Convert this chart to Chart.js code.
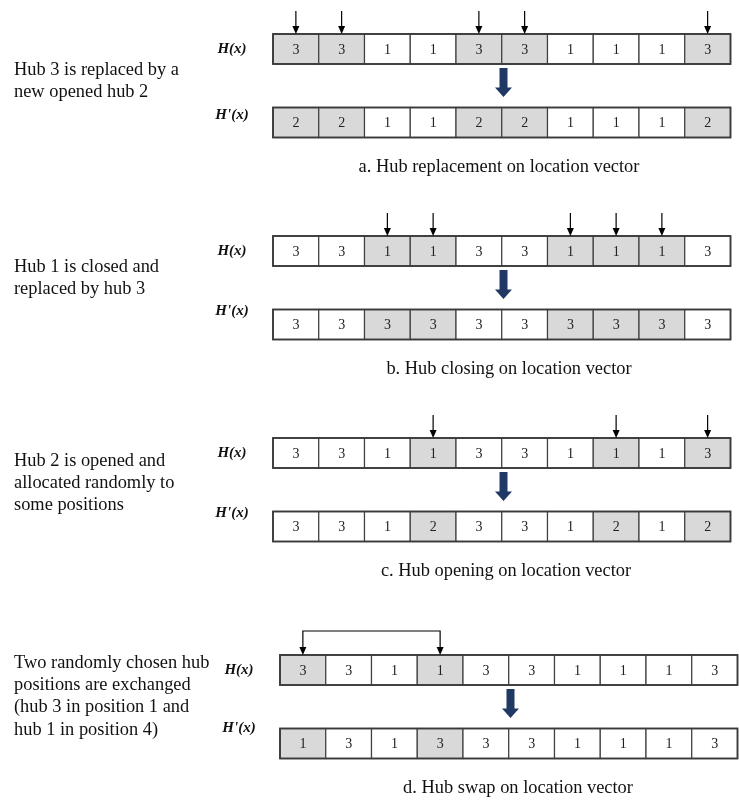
<!DOCTYPE html>
<html lang="en">
<head>
    <meta charset="UTF-8">
    <title>Hub moves on location vector</title>
    <script src="https://cdn.jsdelivr.net/npm/chart.js"></script>
    <style>
        html, body {
            margin: 0;
            padding: 0;
            background-color: #fff;
        }
        canvas {
            display: block;
        }
    </style>
</head>
<body>
    <canvas id="hubChart" width="739" height="800"></canvas>
    <script>
        // one entry per panel: a, b, c, d
        const captions = [
            'a. Hub replacement on location vector',
            'b. Hub closing on location vector',
            'c. Hub opening on location vector',
            'd. Hub swap on location vector'
        ];
        const notes = [
            ['Hub 3 is replaced by a', 'new opened hub 2'],
            ['Hub 1 is closed and', 'replaced by hub 3'],
            ['Hub 2 is opened and', 'allocated randomly to', 'some positions'],
            ['Two randomly chosen hub', 'positions are exchanged', '(hub 3 in position 1 and', 'hub 1 in position 4)']
        ];
        const hBefore = [
            [3, 3, 1, 1, 3, 3, 1, 1, 1, 3],
            [3, 3, 1, 1, 3, 3, 1, 1, 1, 3],
            [3, 3, 1, 1, 3, 3, 1, 1, 1, 3],
            [3, 3, 1, 1, 3, 3, 1, 1, 1, 3]
        ];
        const hAfter = [
            [2, 2, 1, 1, 2, 2, 1, 1, 1, 2],
            [3, 3, 3, 3, 3, 3, 3, 3, 3, 3],
            [3, 3, 1, 2, 3, 3, 1, 2, 1, 2],
            [1, 3, 1, 3, 3, 3, 1, 1, 1, 3]
        ];
        // positions (0-based) that are shaded / pointed at
        const changed = [
            [0, 1, 4, 5, 9],
            [2, 3, 6, 7, 8],
            [3, 7, 9],
            [0, 3]
        ];
        const swapPanels = [false, false, false, true];

        // layout, in canvas pixels
        const rowLeft = [273, 273, 273, 280];
        const rowTop = [34, 236, 438, 655];
        const cellW = 45.75, cellH = 30, rowGap = 73.5;
        const noteTop = [70, 267, 461, 663];
        const captionX = [499, 509, 506, 518];
        const primeDy = [8, 2, 2, 0];

        const serif = '"Liberation Serif", "Times New Roman", serif';

        function drawDiagram(chart) {
            const ctx = chart.ctx;
            const px = v => chart.scales.x.getPixelForValue(v);
            const py = v => chart.scales.y.getPixelForValue(v);

            ctx.save();
            captions.forEach((cap, p) => {
                const left = rowLeft[p], top = rowTop[p];
                const rows = [hBefore[p], hAfter[p]];

                // cells
                rows.forEach((vals, r) => {
                    const y0 = top + r * rowGap;
                    vals.forEach((v, i) => {
                        const x0 = left + i * cellW;
                        const l = px(x0), t = py(y0);
                        const w = px(x0 + cellW) - l, h = py(y0 + cellH) - t;
                        ctx.fillStyle = changed[p].includes(i) ? '#d9d9d9' : '#ffffff';
                        ctx.fillRect(l, t, w, h);
                        ctx.strokeStyle = '#404040';
                        ctx.lineWidth = 1.2;
                        ctx.strokeRect(l, t, w, h);
                        ctx.fillStyle = '#222';
                        ctx.font = '14px ' + serif;
                        ctx.textAlign = 'center';
                        ctx.textBaseline = 'middle';
                        ctx.fillText(String(v), l + w / 2, t + h / 2 + 1);
                    });
                    ctx.strokeStyle = '#3a3a3a';
                    ctx.lineWidth = 1.8;
                    ctx.strokeRect(px(left), py(y0), px(left + cellW * vals.length) - px(left), py(y0 + cellH) - py(y0));
                });

                // row labels
                ctx.fillStyle = '#111';
                ctx.font = 'italic bold 15px ' + serif;
                ctx.textAlign = 'center';
                ctx.textBaseline = 'middle';
                ctx.fillText('H(x)', px(left - 41), py(top + cellH / 2));
                ctx.fillText("H'(x)", px(left - 41), py(top + rowGap + primeDy[p]));

                // small arrows pointing at the changed positions
                ctx.strokeStyle = '#000';
                ctx.fillStyle = '#000';
                ctx.lineWidth = 1.2;
                const head = (x, y) => {
                    ctx.beginPath();
                    ctx.moveTo(px(x - 3.5), py(y - 8));
                    ctx.lineTo(px(x + 3.5), py(y - 8));
                    ctx.lineTo(px(x), py(y));
                    ctx.closePath();
                    ctx.fill();
                };
                if (swapPanels[p]) {
                    const xa = left + (changed[p][0] + 0.5) * cellW;
                    const xb = left + (changed[p][1] + 0.5) * cellW;
                    const yt = top - 24;
                    ctx.beginPath();
                    ctx.moveTo(px(xa), py(top - 7));
                    ctx.lineTo(px(xa), py(yt));
                    ctx.lineTo(px(xb), py(yt));
                    ctx.lineTo(px(xb), py(top - 7));
                    ctx.stroke();
                    head(xa, top);
                    head(xb, top);
                } else {
                    changed[p].forEach(i => {
                        const x = left + (i + 0.5) * cellW;
                        ctx.beginPath();
                        ctx.moveTo(px(x), py(top - 23));
                        ctx.lineTo(px(x), py(top - 7));
                        ctx.stroke();
                        head(x, top);
                    });
                }

                // big arrow between H and H'
                const ax = left + 230.5, ay = top + cellH + 4;
                ctx.fillStyle = '#1f3864';
                ctx.beginPath();
                ctx.moveTo(px(ax - 4), py(ay));
                ctx.lineTo(px(ax + 4), py(ay));
                ctx.lineTo(px(ax + 4), py(ay + 19.5));
                ctx.lineTo(px(ax + 8.5), py(ay + 19.5));
                ctx.lineTo(px(ax), py(ay + 29));
                ctx.lineTo(px(ax - 8.5), py(ay + 19.5));
                ctx.lineTo(px(ax - 4), py(ay + 19.5));
                ctx.closePath();
                ctx.fill();

                // caption
                ctx.fillStyle = '#111';
                ctx.font = '18.4px ' + serif;
                ctx.textAlign = 'center';
                ctx.fillText(cap, px(captionX[p]), py(top + 133));

                // side note
                ctx.textAlign = 'left';
                notes[p].forEach((line, k) => {
                    ctx.fillText(line, px(14), py(noteTop[p] + k * 22.3));
                });
            });
            ctx.restore();
        }

        new Chart(document.getElementById('hubChart').getContext('2d'), {
            type: 'scatter',
            data: { datasets: [] },
            options: {
                responsive: false,
                animation: false,
                events: [],
                layout: { padding: 0 },
                plugins: { legend: { display: false }, tooltip: { enabled: false } },
                scales: {
                    x: { type: 'linear', min: 0, max: 739, display: false },
                    y: { type: 'linear', min: 0, max: 800, reverse: true, display: false }
                }
            },
            plugins: [{ id: 'hubDiagram', afterDraw: drawDiagram }]
        });
    </script>
</body>
</html>
